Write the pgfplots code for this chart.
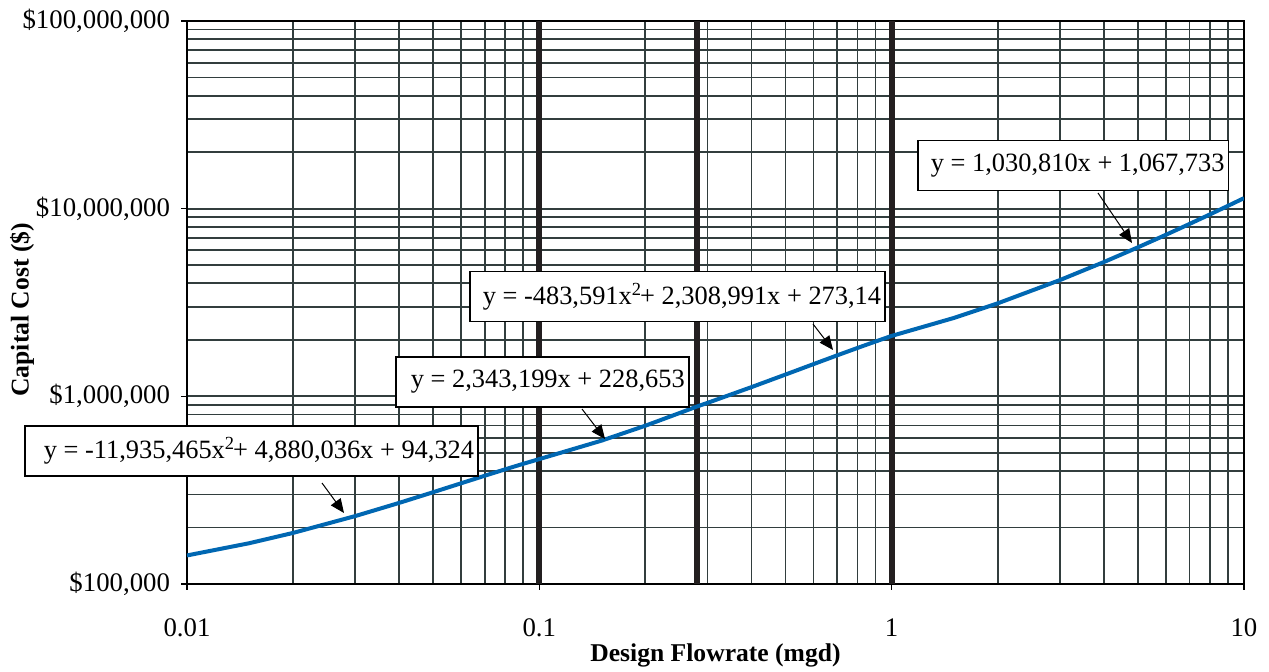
\documentclass[border=0pt]{standalone}
\usepackage{fontspec}
\setmainfont{Liberation Serif}
\usepackage{pgfplots}
\pgfplotsset{compat=1.18}
\usetikzlibrary{arrows.meta}
\definecolor{gridc}{RGB}{50,62,62}
\definecolor{curvec}{RGB}{0,103,178}
\definecolor{heavy}{RGB}{35,31,32}
\begin{document}
\begin{tikzpicture}
\useasboundingbox (0,0) rectangle (634.5pt,335.5pt);
\begin{axis}[
 at={(93.5pt,43.5pt)}, anchor=south west,
 scale only axis, width=528.5pt, height=281.5pt,
 xmode=log, ymode=log,
 xmin=0.01, xmax=10, ymin=1e5, ymax=1e8,
 xtick={0.01,0.1,1,10}, xticklabels={0.01,0.1,1,10},
 minor xtick={0.02,0.03,0.04,0.05,0.06,0.07,0.08,0.09,0.2,0.3,0.4,0.5,0.6,0.7,0.8,0.9,2,3,4,5,6,7,8,9},
 ytick={1e5,1e6,1e7,1e8},
 yticklabels={{\$100,000},{\$1,000,000},{\$10,000,000},{\$100,000,000}},
 minor ytick={2e5,3e5,4e5,5e5,6e5,7e5,8e5,9e5,2e6,3e6,4e6,5e6,6e6,7e6,8e6,9e6,2e7,3e7,4e7,5e7,6e7,7e7,8e7,9e7},
 grid=both,
 major grid style={gridc, line width=0.9pt},
 minor grid style={gridc, line width=0.9pt},
 axis line style={black, line width=1.1pt},
 tick align=outside, major tick length=3pt, minor tick length=0pt,
 xtick pos=bottom, ytick pos=left,
 tick style={black, line width=0.8pt},
 ticklabel style={font=\fontsize{13.4pt}{15pt}\selectfont},
 xticklabel style={yshift=-11pt},
 yticklabel style={xshift=-2pt},
 xlabel={Design Flowrate (mgd)},
 ylabel={Capital Cost (\$)},
 label style={font=\fontsize{12.8pt}{15pt}\selectfont\bfseries},
 xlabel style={at={(axis description cs:0.5,-0.127)}, anchor=center},
 ylabel style={at={(axis description cs:-0.156,0.487)}, anchor=center},
]
\addplot[heavy, line width=2.9pt, forget plot] coordinates {(0.1,1e5) (0.1,1e8)};
\addplot[heavy, line width=2.9pt, forget plot] coordinates {(0.28,1e5) (0.28,1e8)};
\addplot[heavy, line width=2.9pt, forget plot] coordinates {(1,1e5) (1,1e8)};
\addplot[curvec, line width=2pt] coordinates {
(0.01,141931) (0.015,164839) (0.02,187151) (0.03,229983) (0.04,270428)
(0.05,308487) (0.06,344158) (0.07,377443) (0.08,408340) (0.09,436850)
(0.1,462973) (0.15,580133) (0.2,697293) (0.25,814453) (0.28,882000)
(0.3,922319) (0.4,1119366) (0.5,1306743) (0.6,1484447) (0.7,1652479)
(0.8,1810840) (0.9,1959528) (1,2098545) (1.5,2613948) (2,3129353)
(3,4160163) (4,5190973) (5,6221783) (6,7252593) (7,8283403)
(8,9314213) (9,10345023) (10,11375833)};
\end{axis}
\tikzset{eqbox/.style={draw=black, line width=0.8pt, fill=white, anchor=west, inner xsep=2pt, inner ysep=0pt, minimum height=25pt, font=\fontsize{13.2pt}{15pt}\selectfont}}
\tikzset{eqarr/.style={line width=0.5pt, -{Triangle[length=7pt,width=6pt]}}}
\node[eqbox] at (458.5pt,252.75pt) {\hspace{4.5pt}y = 1,030,810x + 1,067,733};
\draw[eqarr] (549pt,239pt) -- (566pt,214pt);
\node[eqbox] at (234.5pt,187.25pt) {\hspace{4.5pt}y = -483,591x\textsuperscript{2}\kern-1pt+ 2,308,991x + 273,14};
\draw[eqarr] (406.5pt,173.5pt) -- (416.5pt,160.5pt);
\node[eqbox] at (197.5pt,144.5pt) {\hspace{5.5pt}y = 2,343,199x + 228,653};
\draw[eqarr] (291pt,131pt) -- (302.5pt,116pt);
\node[eqbox] at (12pt,110pt) {\hspace{7.5pt}y = -11,935,465x\textsuperscript{2}\kern-1pt+ 4,880,036x + 94,324};
\draw[eqarr] (161pt,94pt) -- (172pt,79pt);
\end{tikzpicture}
\end{document}
